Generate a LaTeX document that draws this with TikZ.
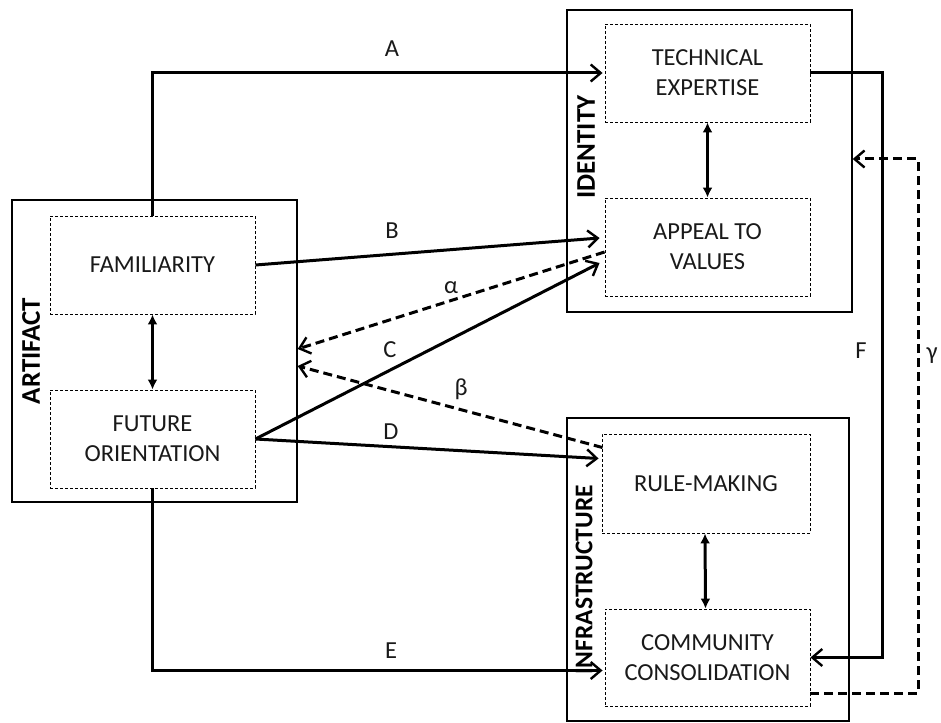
\documentclass[tikz,border=0pt]{standalone}
\usepackage{fontspec}
\setmainfont{Carlito}
\usetikzlibrary{arrows.meta,calc}
\begin{document}
\begin{tikzpicture}[x=1pt,y=-1pt,
  txt/.style={font=\fontsize{24.5}{30}\selectfont, text=black!90},
  outerbox/.style={draw, line width=1.4pt, inner sep=0pt},
  innerbox/.style={draw, line width=0.9pt, dash pattern=on 3pt off 2pt, inner sep=0pt,
    minimum width=205pt, minimum height=98pt, align=center, txt},
  grouplab/.style={rotate=90, font=\bfseries\fontsize{27}{30}\selectfont},
  conn/.style={line width=3pt, -{Straight Barb[length=10pt,width=17pt,line width=2.4pt]}},
  dconn/.style={line width=3pt, dash pattern=on 9pt off 5pt,
    -{Straight Barb[length=10pt,width=17pt,line width=2.4pt]}},
  twoway/.style={line width=3pt, {Latex[length=10pt,width=10pt]}-{Latex[length=10pt,width=10pt]}},
  lab/.style={txt}]
\useasboundingbox (0,0) rectangle (941,722);

% group boxes
\node[outerbox, minimum width=285pt, minimum height=302pt] (art) at (154.5,351) {};
\node[outerbox, minimum width=285pt, minimum height=302pt] (ide) at (709.5,161) {};
\node[outerbox, minimum width=282pt, minimum height=303pt] (inf) at (708,569.5) {};

\node[grouplab] (artl) at (31,351) {ARTIFACT};
\node[grouplab] (idel) at (586,147) {IDENTITY};
\node[grouplab, font=\bfseries\fontsize{25.5}{30}\selectfont] (infl) at (584,580) {INFRASTRUCTURE};

% inner boxes
\node[innerbox] (fam) at (152.5,265) {FAMILIARITY};
\node[innerbox] (fut) at (152.5,439) {FUTURE\\ORIENTATION};
\node[innerbox] (tech) at (707.5,73) {TECHNICAL\\EXPERTISE};
\node[innerbox] (app) at (707.5,247) {APPEAL TO\\VALUES};
\node[innerbox, minimum width=208pt, minimum height=99pt] (rule) at (706,483.5) {RULE-MAKING};
\node[innerbox, minimum height=97pt] (comm) at (707.5,657.5) {COMMUNITY\\CONSOLIDATION};

% two-way arrows inside groups
\draw[twoway] (fam.south) -- (fut.north);
\draw[twoway] (tech.south) -- (app.north);
\draw[twoway] ($(rule.south)+(-1,0)$) -- ($(comm.north)+(-2,0)$);

% coordinates for connector ends
\coordinate (aend) at ($(tech.west)+(-2,0)$);
\coordinate (bend) at ($(app.west)+(-5,-9)$);
\coordinate (cend) at ($(app.west)+(-5,16)$);
\coordinate (alstart) at ($(app.west)+(0,5)$);
\coordinate (alend) at ($(art.east)+(0,-2)$);
\coordinate (betastart) at ($(rule.north west)+(1,14)$);
\coordinate (betaend) at ($(art.east)+(0,15)$);
\coordinate (dend) at ($(rule.west)+(-3,-25)$);
\coordinate (eend) at ($(comm.west)+(-2,13)$);
\coordinate (fturn) at (882,73);
\coordinate (gstart) at ($(comm.south east)+(0,-13)$);
\coordinate (gcorner) at (918,159);

% A and E
\draw[conn] (fam.north) |- (aend);
\draw[conn] (fut.south) |- (eend);
% B, C, D
\draw[conn] (fam.east) -- (bend);
\draw[conn] (fut.east) -- (cend);
\draw[conn] (fut.east) -- (dend);
% alpha, beta
\draw[dconn] (alstart) -- (alend);
\draw[dconn] (betastart) -- (betaend);
% F
\draw[conn] (tech.east) -- (fturn) |- (comm.east);
% gamma
\draw[dconn] (gstart) -| (gcorner) -- (ide.east |- gcorner);

% labels
\node[lab] (la) at (392,49) {A};
\node[lab] (lb) at (392,231) {B};
\node[lab] (lal) at (451,288) {α};
\node[lab] (lc) at (390,350) {C};
\node[lab] (lbe) at (461,389) {β};
\node[lab] (ld) at (391,432) {D};
\node[lab] (le) at (391,651) {E};
\node[lab] (lf) at (861,351) {F};
\node[lab] (lg) at (932,356) {γ};
\end{tikzpicture}
\end{document}
